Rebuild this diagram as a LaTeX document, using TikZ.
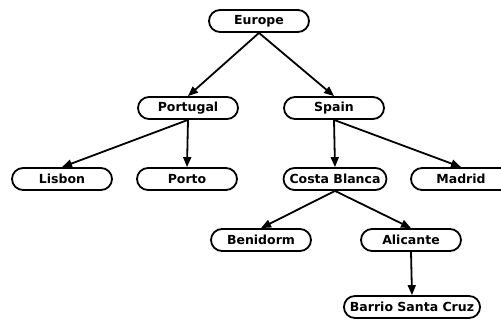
\documentclass[tikz,border=0pt]{standalone}
\usepackage{fontspec}
\setmainfont{DejaVu Sans}
\usetikzlibrary{arrows.meta}
\tikzset{
  place/.style={draw, line width=1.8pt, rounded corners=11pt, minimum width=100pt,
    minimum height=22pt, inner xsep=6pt, inner ysep=0pt,
    font=\fontsize{12.5}{14}\selectfont\bfseries},
  link/.style={line width=1.8pt, -{Triangle[length=10pt,width=8pt]}}
}
\begin{document}
\begin{tikzpicture}[x=1pt,y=-1pt]
  \useasboundingbox (0,0) rectangle (501,320);
  \clip (0,0) rectangle (501,320);
  \node[place] (europe)   at (259,21)  {Europe};
  \node[place] (portugal) at (188,108) {Portugal};
  \node[place] (spain)    at (334,108) {Spain};
  \node[place] (lisbon)   at (62,179)  {Lisbon};
  \node[place] (porto)    at (187,179) {Porto};
  \node[place] (costa)    at (335,179) {Costa Blanca};
  \node[place] (madrid)   at (461,179) {Madrid};
  \node[place] (benidorm) at (261,240) {Benidorm};
  \node[place] (alicante) at (411,240) {Alicante};
  \node[place] (barrio)   at (412,307) {Barrio Santa Cruz};

  \draw[link] (europe.south)   -- (portugal.north);
  \draw[link] (europe.south)   -- (spain.north);
  \draw[link] (portugal.south) -- (lisbon.north);
  \draw[link] (portugal.south) -- (porto.north);
  \draw[link] (spain.south)    -- (costa.north);
  \draw[link] (spain.south)    -- (madrid.north);
  \draw[link] (costa.south)    -- (benidorm.north);
  \draw[link] (costa.south)    -- (alicante.north);
  \draw[link] (alicante.south) -- (barrio.north);
\end{tikzpicture}
\end{document}
